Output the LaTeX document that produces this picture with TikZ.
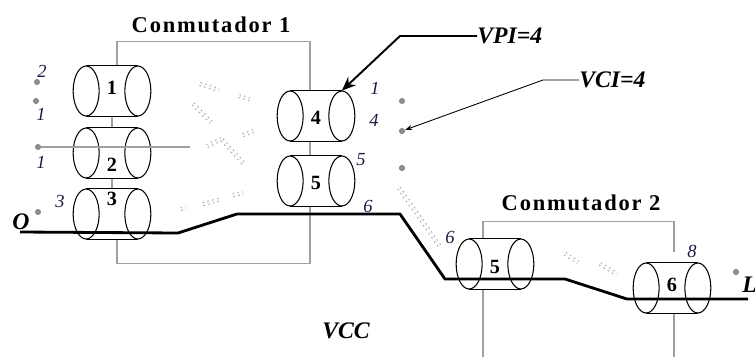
\documentclass[tikz,border=0pt]{standalone}
\usepackage{fontspec}
\setmainfont{Liberation Serif}
\usetikzlibrary{arrows.meta, calc, backgrounds}
\definecolor{swgray}{RGB}{160,160,160}
\definecolor{dotgray}{RGB}{140,140,140}
\definecolor{numcolor}{RGB}{25,25,70}
\tikzset{
  cylcore/.style = {rectangle, minimum width=1.02cm, minimum height=1cm,
                    inner sep=0pt, fill=white},
  cyledge/.style = {draw=black, line width=0.6pt},
  cylnum/.style  = {font=\fontsize{11.5}{12}\selectfont\bfseries, inner sep=0pt},
  swline/.style  = {draw=swgray, line width=0.6pt},
  vpath/.style   = {line width=1.6pt, line join=round},
  vcdot/.style   = {circle, fill=dotgray, inner sep=0pt, minimum size=3.5pt},
  vclink/.style  = {draw=dotgray!80, line width=0.6pt, double=white,
                    double distance=1.2pt, dash pattern=on 0.8pt off 2pt},
  portnum/.style = {font=\fontsize{10.5}{11}\selectfont\itshape, text=numcolor, inner sep=0pt},
  title/.style   = {font=\fontsize{12.8}{14}\selectfont\bfseries\addfontfeature{LetterSpace=8},
                    inner sep=0pt},
  tag/.style     = {font=\fontsize{13.5}{14}\selectfont\bfseries\itshape, inner sep=0pt},
  vpiarrow/.style = {line width=1.1pt, -{Stealth[length=8pt, width=6.5pt]}},
  vciarrow/.style = {line width=0.5pt, -{Stealth[length=4pt, width=3pt]}},
}
% cylinder: name, position, label, label offset
\newcommand{\vcyl}[4]{%
  \node[cylcore] (#1) at (#2) {};
  \draw[cyledge] (#1.north west) -- (#1.north east) (#1.south west) -- (#1.south east);
  \draw[cyledge, fill=white] (#1.west) ellipse [x radius=0.26cm, y radius=0.5cm];
  \draw[cyledge, fill=white] (#1.east) ellipse [x radius=0.26cm, y radius=0.5cm];
  \node[cylnum] (#1num) at ($(#1)+(0,#4)$) {#3};
}

\begin{document}
\begin{tikzpicture}[x=0.02cm, y=-0.02cm]
  \useasboundingbox (0,0) rectangle (755,356);

  % conmutador 1
  \vcyl{c1}{112,91}{1}{-3}
  \vcyl{c2}{112,153}{2}{12}
  \vcyl{c3}{112,214}{3}{-15}
  \vcyl{c4}{316,116}{4}{2}
  \vcyl{c5}{316,181}{5}{2}
  % conmutador 2
  \vcyl{c6}{495,264}{5}{3}
  \vcyl{c7}{672,288}{6}{-3}

  \begin{scope}[on background layer]
    \draw[swline] ([xshift=0.1cm]c1.north) -- ++(0,-24) -| ([xshift=-0.12cm]c4.north);
    \draw[swline] ([xshift=-0.12cm]c4.south) -- ([xshift=-0.12cm]c5.north);
    \draw[swline] ([xshift=-0.12cm]c5.south) -- ++(0,57) -| ([xshift=0.1cm]c3.south);
    \draw[swline] (c1.south) -- (c2.north);
    \draw[swline] (c2.south) -- (c3.north);
    \coordinate (sw2) at (483,360);
    \draw[swline] (sw2) |- ($(c7.north)+(2,-41)$) -- ($(c7.north)+(2,-11)$);
    \draw[swline] ([xshift=0.04cm]c7.south) -- ++(0,50);
  \end{scope}

  \node[title] (t1) at (211,25) {Conmutador 1};
  \node[title] (t2) at (581,203) {Conmutador 2};

  % puntos
  \node[vcdot] (d1) at (37,82) {};
  \node[vcdot] (d2) at (36,101) {};
  \node[vcdot] (d3) at (38,147) {};
  \node[vcdot] (d4) at (38,212) {};
  \node[vcdot] (d5) at (402,101) {};
  \node[vcdot] (d6) at (402,131) {};
  \node[vcdot] (d7) at (402,168) {};
  \node[vcdot] (d8) at (736,272) {};

  \coordinate (hl) at (190,147);
  \draw[swline] (d3) -- (hl);

  % canales virtuales
  \draw[vclink] (200,84) -- (219,90);
  \draw[vclink] (239,96) -- (252,100);
  \draw[vclink] (193,104) -- (211,122);
  \draw[vclink] (207,146) -- (222,139);
  \draw[vclink] (243,135) -- (254,131);
  \draw[vclink] (222,140) -- (245,165);
  \draw[vclink] (181,209) -- (186,208);
  \draw[vclink] (203,204) -- (219,200);
  \draw[vclink] (233,195) -- (243,193);
  \draw[vclink] (399,188) -- (441,248);
  \draw[vclink] (565,254) -- (578,262);
  \draw[vclink] (600,264) -- (617,274);

  % trayecto
  \coordinate (src) at (20,232);
  \coordinate (dst) at (748,299);
  \draw[vpath] (src) -- (178,233) -- (237,214) -- (400,214) -- (445,279)
               -- (565,279) -- (627,299) -- (dst);

  \node[tag] (o) at (21,222) {O};
  \node[tag, anchor=west] (l) at (742,285) {L};
  \node[tag] (vcc) at (346,331) {VCC};

  \node[portnum] (p1) at (42,71) {2};
  \node[portnum] (p2) at (41,114) {1};
  \node[portnum] (p3) at (41,162) {1};
  \node[portnum] (p4) at (60,201) {3};
  \node[portnum] (p5) at (375,88) {1};
  \node[portnum] (p6) at (374,120) {4};
  \node[portnum] (p7) at (361,160) {5};
  \node[portnum] (p8) at (368,206) {6};
  \node[portnum] (p9) at (450,237) {6};
  \node[portnum] (p10) at (692,251) {8};

  \node[tag, anchor=west] (vpi) at (477,36) {VPI=4};
  \draw[vpiarrow] (vpi.west) -- ++(-77,0) -- (c4.north east);
  \node[tag, anchor=west] (vci) at (579,80) {VCI=4};
  \draw[vciarrow] (vci.west) -- ++(-36,0) -- (d6);
\end{tikzpicture}
\end{document}
